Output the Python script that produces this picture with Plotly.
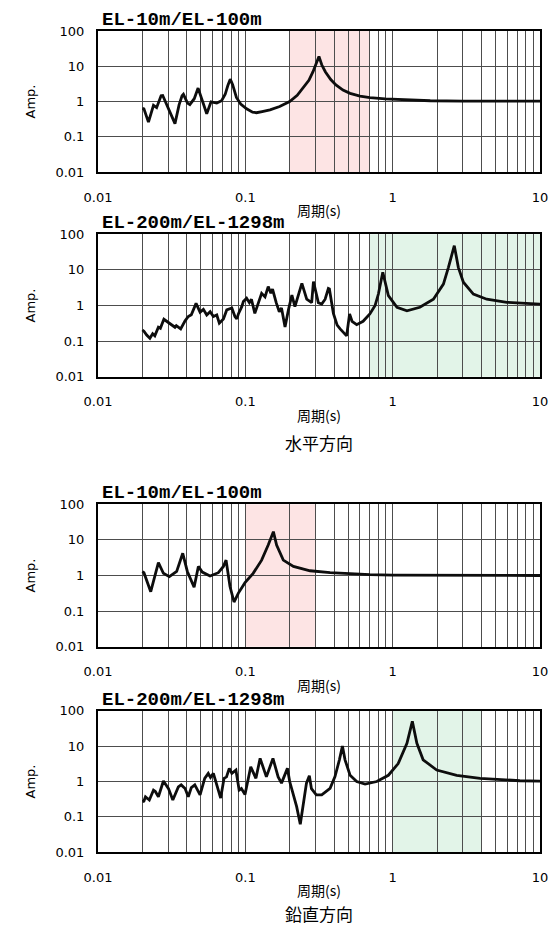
import plotly.graph_objects as go

# ---- Spectral ratio data: period (s) vs amplitude ratio ----
# Horizontal, EL-10m / EL-100m
h1_period = [0.0200, 0.0205, 0.0220, 0.0238, 0.0250, 0.0268, 0.0275, 0.0300, 0.0333,
             0.0355, 0.0372, 0.0380, 0.0405, 0.0420, 0.0450, 0.0478, 0.0510, 0.0547,
             0.0585, 0.0640, 0.0690, 0.0730, 0.0760, 0.0790, 0.0820, 0.0870, 0.0930,
             0.1020, 0.1120, 0.1190, 0.1300, 0.1470, 0.1710, 0.2000, 0.2250, 0.2500,
             0.2700, 0.2880, 0.3050, 0.3160, 0.3300, 0.3490, 0.3800, 0.4120, 0.4600,
             0.5140, 0.6000, 0.7000, 0.8900, 1.2000, 1.8000, 3.0000, 5.0000, 10.000]
h1_amp = [0.64, 0.62, 0.26, 0.78, 0.67, 1.45, 1.48, 0.62, 0.235,
          0.80, 1.45, 1.60, 0.90, 0.82, 1.20, 2.40, 1.00, 0.45,
          0.98, 0.90, 1.05, 1.60, 2.80, 4.30, 3.00, 1.30, 0.85,
          0.62, 0.50, 0.48, 0.52, 0.58, 0.72, 1.00, 1.50, 2.60,
          4.00, 7.00, 13.0, 19.0, 11.0, 7.00, 4.20, 2.95, 2.10,
          1.70, 1.42, 1.28, 1.18, 1.10, 1.05, 1.03, 1.02, 1.02]

# Horizontal, EL-200m / EL-1298m
h2_period = [0.0200, 0.0205, 0.0214, 0.0225, 0.0235, 0.0243, 0.0257, 0.0265, 0.0280,
             0.0308, 0.0333, 0.0340, 0.0364, 0.0390, 0.0410, 0.0430, 0.0463, 0.0493,
             0.0519, 0.0547, 0.0577, 0.0607, 0.0640, 0.0666, 0.0710, 0.0748, 0.0810,
             0.0850, 0.0875, 0.0900, 0.0946, 0.0970, 0.1020, 0.1065, 0.1100, 0.1160,
             0.1220, 0.1290, 0.1360, 0.1430, 0.1490, 0.1530, 0.1620, 0.1700, 0.1760,
             0.1860, 0.1960, 0.2070, 0.2170, 0.2420, 0.2610, 0.2820, 0.2900, 0.3130,
             0.3300, 0.3480, 0.3660, 0.3720, 0.3960, 0.4200, 0.4400, 0.4870, 0.5100,
             0.5300, 0.5700, 0.6300, 0.7000, 0.7600, 0.8000, 0.8570, 0.9350, 1.0700,
             1.2500, 1.5300, 1.8900, 2.2100, 2.3900, 2.6200, 2.7900, 3.0200, 3.5300,
             4.3500, 5.9500, 7.3000, 10.000]
h2_amp = [0.205, 0.190, 0.148, 0.120, 0.160, 0.140, 0.245, 0.230, 0.410,
          0.300, 0.245, 0.270, 0.220, 0.370, 0.490, 0.550, 1.150, 0.650,
          0.780, 0.540, 0.670, 0.490, 0.540, 0.320, 0.420, 0.750, 0.850,
          0.490, 0.420, 0.600, 0.930, 1.300, 1.600, 1.200, 1.500, 0.600,
          1.200, 2.200, 1.750, 3.400, 2.200, 2.900, 1.200, 0.670, 0.850,
          0.250, 0.750, 1.960, 0.930, 4.200, 1.500, 1.200, 4.700, 1.200,
          1.100, 1.500, 3.000, 2.900, 0.600, 0.280, 0.220, 0.140, 0.580,
          0.360, 0.290, 0.360, 0.580, 1.000, 2.100, 8.600, 1.900, 0.890,
          0.710, 0.890, 1.500, 4.000, 11.80, 48.00, 11.80, 4.500, 2.100,
          1.500, 1.230, 1.180, 1.100]

# Vertical, EL-10m / EL-100m
v1_period = [0.0200, 0.0205, 0.0228, 0.0257, 0.0278, 0.0305, 0.0342, 0.0376, 0.0404,
             0.0449, 0.0480, 0.0510, 0.0576, 0.0656, 0.0710, 0.0740, 0.0787, 0.0838,
             0.0897, 0.0995, 0.1130, 0.1290, 0.1430, 0.1550, 0.1630, 0.1810, 0.2120,
             0.2750, 0.3760, 0.5100, 0.7000, 1.0000, 2.0000, 5.0000, 10.000]
v1_amp = [1.28, 1.20, 0.35, 2.30, 1.15, 0.93, 1.30, 4.20, 1.30,
          0.47, 1.80, 1.25, 0.97, 1.20, 1.80, 2.70, 0.49, 0.18,
          0.32, 0.63, 1.15, 2.70, 7.20, 17.0, 7.20, 2.70, 1.80,
          1.36, 1.20, 1.12, 1.06, 1.03, 1.01, 1.00, 1.00]

# Vertical, EL-200m / EL-1298m
v2_period = [0.0200, 0.0205, 0.0210, 0.0223, 0.0238, 0.0245, 0.0257, 0.0278, 0.0301,
             0.0322, 0.0351, 0.0367, 0.0390, 0.0410, 0.0430, 0.0454, 0.0493, 0.0530,
             0.0560, 0.0580, 0.0607, 0.0640, 0.0680, 0.0717, 0.0745, 0.0778, 0.0810,
             0.0863, 0.0908, 0.0940, 0.0995, 0.1088, 0.1180, 0.1260, 0.1390, 0.1540,
             0.1670, 0.1760, 0.1860, 0.1930, 0.2000, 0.2230, 0.2360, 0.2490, 0.2600,
             0.2720, 0.2810, 0.3030, 0.3300, 0.3760, 0.4060, 0.4350, 0.4560, 0.4750,
             0.5140, 0.5700, 0.6500, 0.7800, 0.9350, 1.0900, 1.2500, 1.3600, 1.4600,
             1.6100, 1.9900, 2.7200, 3.9200, 7.3000, 10.000]
v2_amp = [0.27, 0.28, 0.37, 0.30, 0.57, 0.52, 0.37, 1.03, 0.63,
          0.30, 0.70, 0.80, 0.63, 0.37, 0.67, 0.80, 0.42, 1.23,
          1.70, 1.30, 1.70, 0.80, 0.34, 1.23, 1.35, 2.35, 1.70,
          2.10, 0.57, 0.63, 0.43, 2.60, 1.23, 4.50, 1.35, 4.50,
          1.35, 0.90, 1.50, 2.35, 1.00, 0.195, 0.062, 0.27, 0.90,
          1.45, 0.63, 0.42, 0.42, 0.64, 1.37, 4.10, 10.0, 4.10,
          1.50, 1.00, 0.85, 1.00, 1.50, 3.20, 12.0, 50.0, 12.0,
          4.10, 2.10, 1.50, 1.23, 1.05, 1.03]

panel_titles = ["EL-10m/EL-100m", "EL-200m/EL-1298m", "EL-10m/EL-100m", "EL-200m/EL-1298m"]
panel_series = [(h1_period, h1_amp), (h2_period, h2_amp), (v1_period, v1_amp), (v2_period, v2_amp)]
# highlighted period bands (s) and their tint
panel_bands = [(0.2, 0.7, "#fde4e4"), (0.7, 10.0, "#e2f4e8"), (0.1, 0.3, "#fde4e4"), (1.0, 4.0, "#e2f4e8")]
group_labels = ["水平方向", "鉛直方向"]

# gridlines at every 1..9 step of each decade; only decades are labelled
x_decades = [0.01, 0.1, 1.0]
x_ticks = [round(m * d, 6) for d in x_decades for m in range(1, 10)] + [10.0]
x_labels = {0.01: "0.01", 0.1: "0.1", 1.0: "1", 10.0: "10"}
x_ticktext = [x_labels.get(v, "") for v in x_ticks]
y_ticks = [0.01, 0.1, 1, 10, 100]
y_ticktext = ["0.01", "0.1", "1", "10", "100"]

W, H = 550, 925
LEFT, RIGHT = 98, 540
# vertical pixel extents of each plot area (top, bottom)
panel_px = [(31.0, 172.0), (234.3, 376.7), (504.3, 646.7), (710.7, 852.3)]


def py(px):
    return 1 - px / H


fig = go.Figure()
annotations = []
shapes = []
tick_font = dict(family="DejaVu Sans", size=13, color="black")

for i, ((per, amp), title, band, (top, bot)) in enumerate(zip(panel_series, panel_titles, panel_bands, panel_px)):
    n = i + 1
    xa = "x" if n == 1 else f"x{n}"
    ya = "y" if n == 1 else f"y{n}"
    fig.add_trace(go.Scatter(x=per, y=amp, mode="lines", xaxis=xa, yaxis=ya,
                             line=dict(color="#0d0d0d", width=2.8), showlegend=False,
                             hoverinfo="x+y"))
    axis_common = dict(showline=True, mirror=True, linecolor="black", linewidth=2,
                       showgrid=True, gridcolor="#4d4d4d", gridwidth=1, zeroline=False,
                       ticks="", tickfont=tick_font, tickmode="array", type="log",
                       tickangle=0, fixedrange=True, automargin=False)
    fig.update_layout({
        f"xaxis{'' if n == 1 else n}": dict(axis_common, domain=[LEFT / W, RIGHT / W], range=[-2, 1],
                                           anchor=ya, tickvals=x_ticks, ticktext=x_ticktext,
                                           ticklabelstandoff=12),
        f"yaxis{'' if n == 1 else n}": dict(axis_common, domain=[py(bot), py(top)], range=[-2, 2],
                                           anchor=xa, tickvals=y_ticks, ticktext=y_ticktext,
                                           ticklabelstandoff=9),
    })
    shapes.append(dict(type="rect", xref=xa, yref=f"{ya} domain", x0=band[0], x1=band[1],
                       y0=0, y1=1, fillcolor=band[2], line=dict(width=0), layer="below"))
    # panel title
    annotations.append(dict(text=f"<b>{title}</b>", x=100 / W, y=py(top - 11), xref="paper", yref="paper",
                            xanchor="left", yanchor="middle", showarrow=False,
                            font=dict(family="Liberation Mono", size=19, color="black")))
    # axis titles
    annotations.append(dict(text="周期(s)", x=(LEFT + RIGHT) / 2 / W, y=py(bot + 38), xref="paper",
                            yref="paper", xanchor="center", yanchor="middle", showarrow=False,
                            font=dict(family="Noto Sans CJK JP", size=14, color="black")))
    annotations.append(dict(text="Amp.", x=30 / W, y=py((top + bot) / 2), xref="paper", yref="paper",
                            xanchor="center", yanchor="middle", textangle=-90, showarrow=False,
                            font=dict(family="DejaVu Sans", size=13, color="black")))

for label, ypx in zip(group_labels, [442.0, 913.0]):
    annotations.append(dict(text=label, x=(LEFT + RIGHT) / 2 / W, y=py(ypx), xref="paper", yref="paper",
                            xanchor="center", yanchor="middle", showarrow=False,
                            font=dict(family="Noto Sans CJK JP", size=17, color="black")))

fig.update_layout(width=W, height=H, margin=dict(l=0, r=0, t=0, b=0, pad=0),
                  paper_bgcolor="white", plot_bgcolor="white",
                  shapes=shapes, annotations=annotations)

# the page body carries the browser's default margin; drop it so the figure fills the window
fig.write_html("out.html",
               post_script="document.body.style.margin='0';document.body.style.overflow='hidden';")
